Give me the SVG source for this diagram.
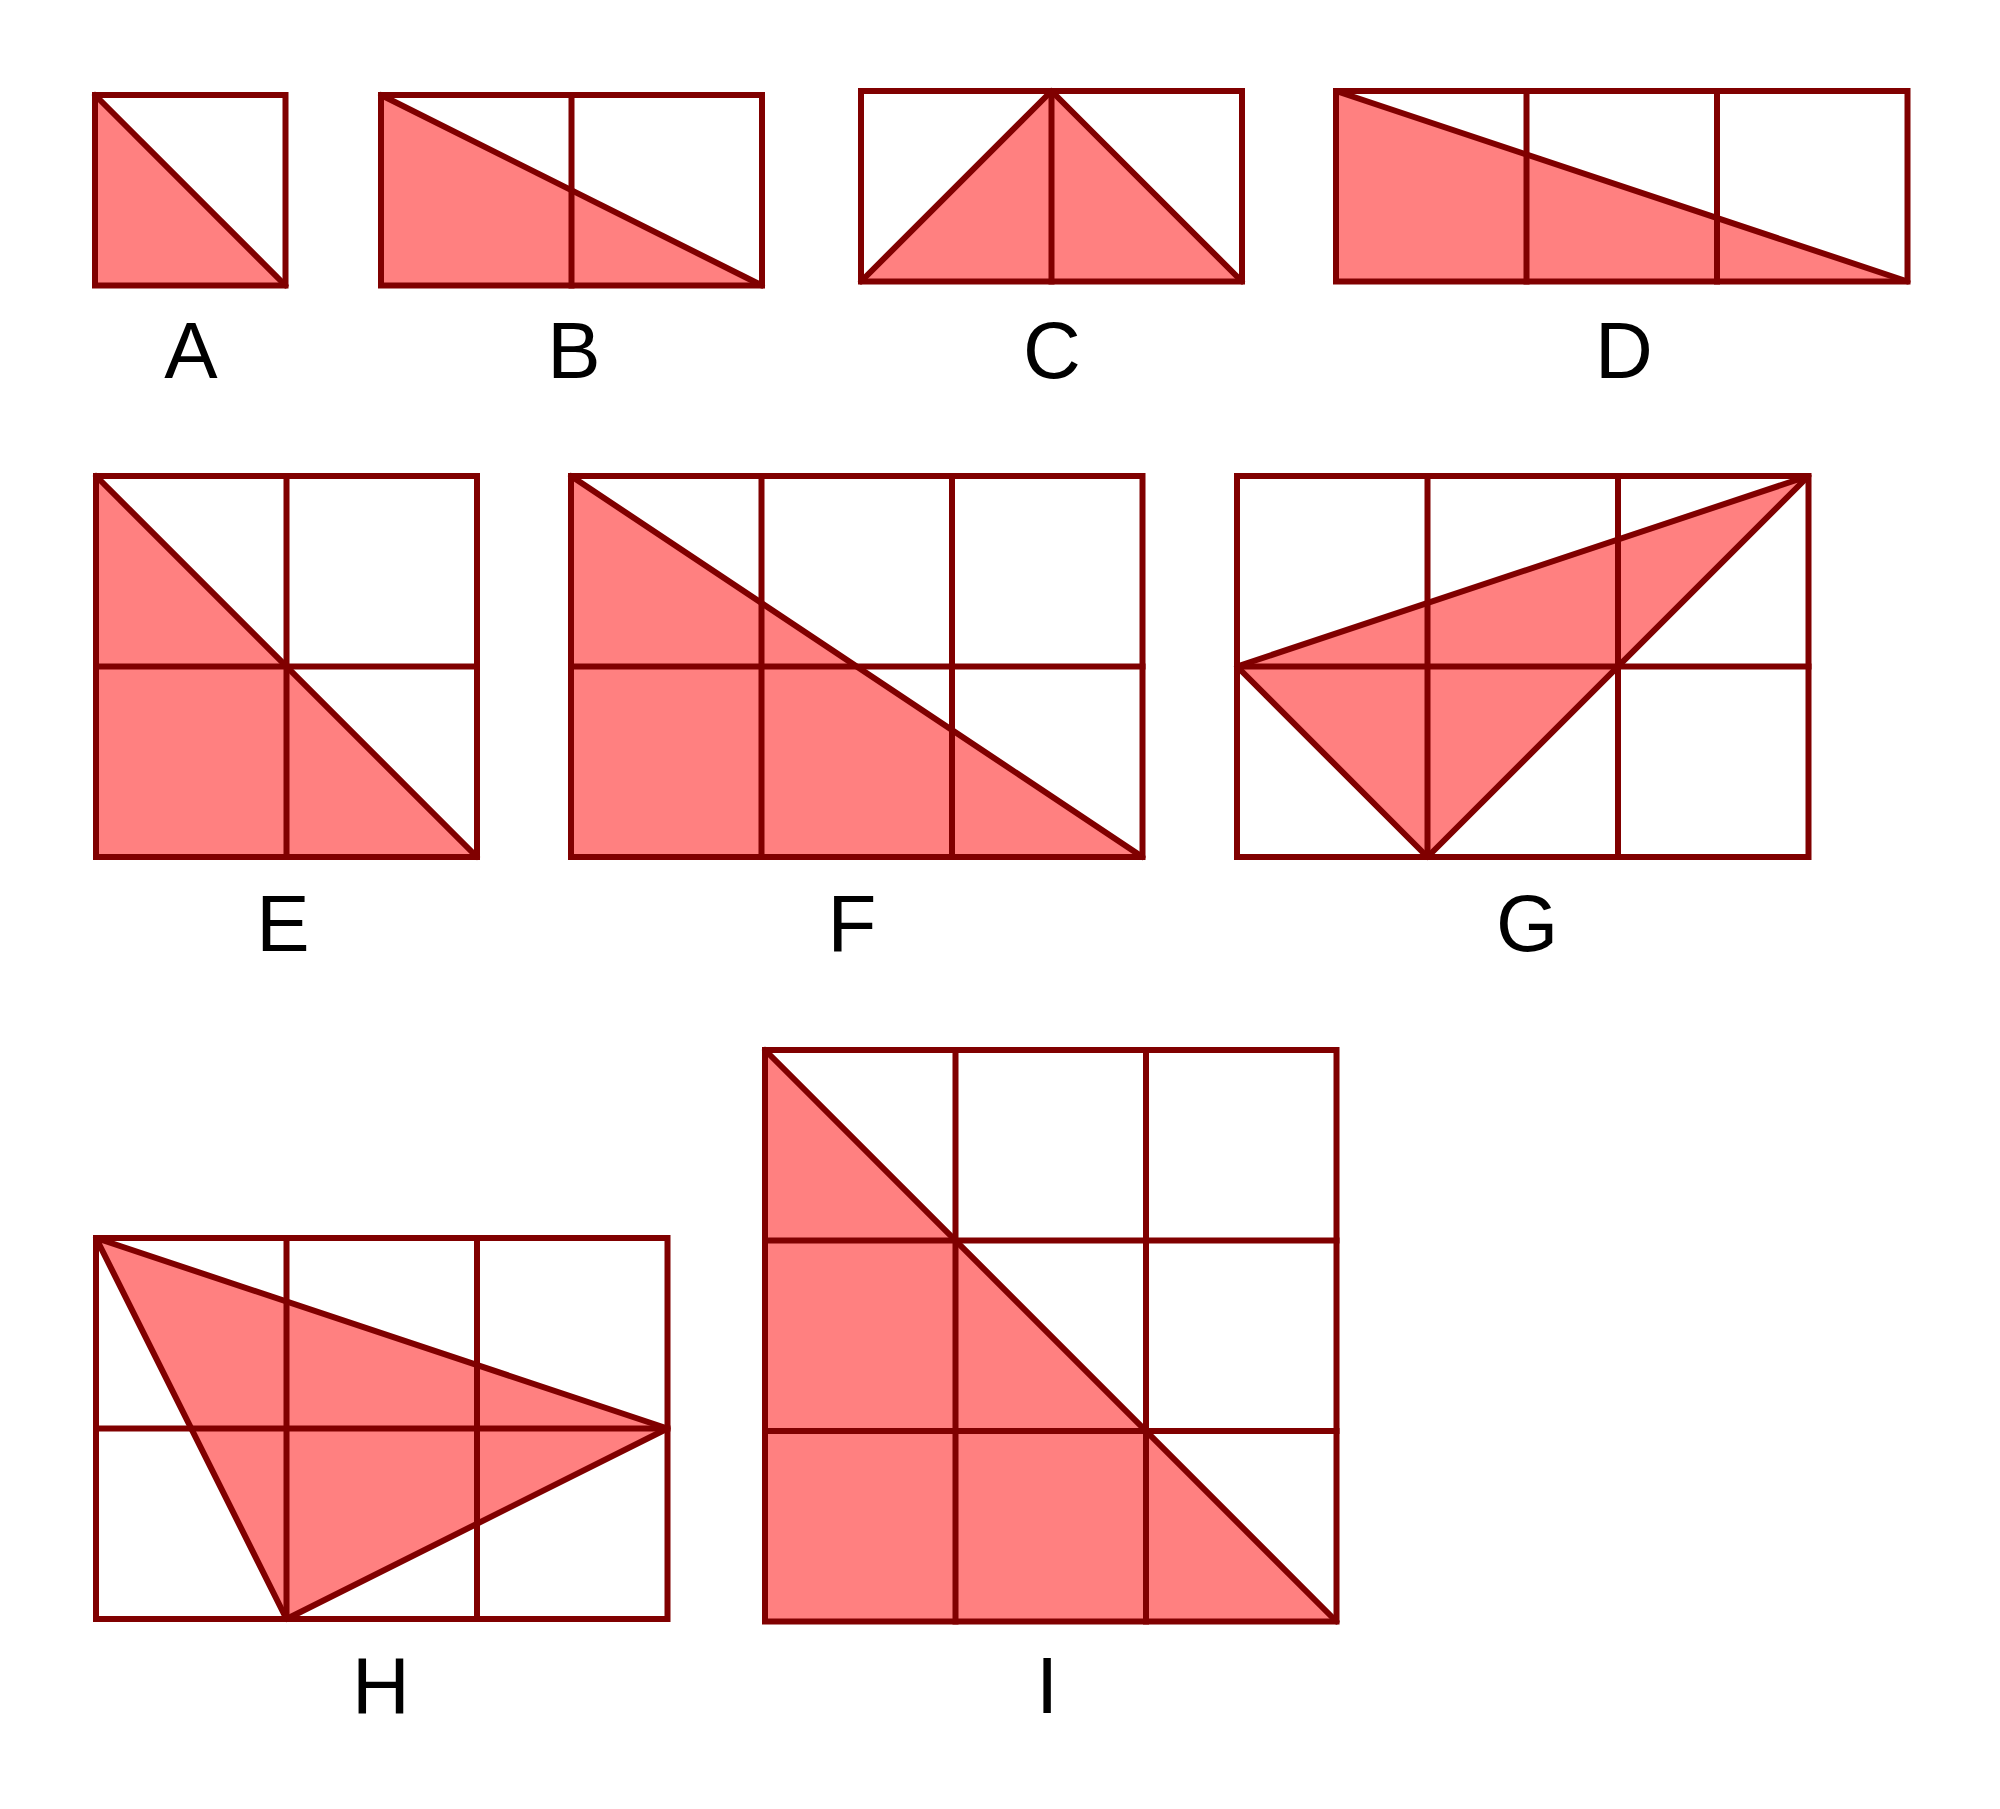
<svg xmlns="http://www.w3.org/2000/svg" width="2000" height="1809" viewBox="0 0 2000 1809">
<style>
.fill{fill:#FF8080;stroke:none}
.g{fill:none;stroke:#800000;stroke-width:6;stroke-linecap:square}
.t{fill:none;stroke:#800000;stroke-width:6;stroke-linejoin:round;stroke-linecap:round}
.lbl{font-family:"Liberation Sans",Arial,sans-serif;font-size:80px;fill:#000;text-anchor:middle}
</style>
<rect width="2000" height="1809" fill="#fff"/>
<g id="A" transform="translate(95,95)">
<polygon class="fill" points="0,0 0,190.5 190.5,190.5"/>
<rect class="g" x="0" y="0" width="190.5" height="190.5"/>
<polyline class="t" points="0,0 190.5,190.5"/>
</g>
<g id="B" transform="translate(381,95)">
<polygon class="fill" points="0,0 0,190.5 381,190.5"/>
<rect class="g" x="0" y="0" width="381" height="190.5"/>
<path class="g" d="M190.5,0V190.5"/>
<polyline class="t" points="0,0 381,190.5"/>
</g>
<g id="C" transform="translate(861,91)">
<polygon class="fill" points="0,190.5 190.5,0 381,190.5"/>
<rect class="g" x="0" y="0" width="381" height="190.5"/>
<path class="g" d="M190.5,0V190.5"/>
<polyline class="t" points="0,190.5 190.5,0 381,190.5"/>
</g>
<g id="D" transform="translate(1336,91)">
<polygon class="fill" points="0,0 0,190.5 571.5,190.5"/>
<rect class="g" x="0" y="0" width="571.5" height="190.5"/>
<path class="g" d="M190.5,0V190.5M381,0V190.5"/>
<polyline class="t" points="0,0 571.5,190.5"/>
</g>
<g id="E" transform="translate(96,476)">
<polygon class="fill" points="0,0 0,381 381,381"/>
<rect class="g" x="0" y="0" width="381" height="381"/>
<path class="g" d="M190.5,0V381M0,190.5H381"/>
<polyline class="t" points="0,0 381,381"/>
</g>
<g id="F" transform="translate(571,476)">
<polygon class="fill" points="0,0 0,381 571.5,381"/>
<rect class="g" x="0" y="0" width="571.5" height="381"/>
<path class="g" d="M190.5,0V381M381,0V381M0,190.5H571.5"/>
<polyline class="t" points="0,0 571.5,381"/>
</g>
<g id="G" transform="translate(1237,476)">
<polygon class="fill" points="0,190.5 571.5,0 190.5,381"/>
<rect class="g" x="0" y="0" width="571.5" height="381"/>
<path class="g" d="M190.5,0V381M381,0V381M0,190.5H571.5"/>
<polygon class="t" points="0,190.5 571.5,0 190.5,381"/>
</g>
<g id="H" transform="translate(96,1238)">
<polygon class="fill" points="0,0 571.5,190.5 190.5,381"/>
<rect class="g" x="0" y="0" width="571.5" height="381"/>
<path class="g" d="M190.5,0V381M381,0V381M0,190.5H571.5"/>
<polygon class="t" points="0,0 571.5,190.5 190.5,381"/>
</g>
<g id="I" transform="translate(765,1050)">
<polygon class="fill" points="0,0 0,571.5 571.5,571.5"/>
<rect class="g" x="0" y="0" width="571.5" height="571.5"/>
<path class="g" d="M190.5,0V571.5M381,0V571.5M0,190.5H571.5M0,381H571.5"/>
<polyline class="t" points="0,0 571.5,571.5"/>
</g>
<g id="labels">
<text class="lbl" x="191" y="378">A</text>
<text class="lbl" x="574" y="378">B</text>
<text class="lbl" x="1052" y="378">C</text>
<text class="lbl" x="1624" y="378">D</text>
<text class="lbl" x="283" y="951">E</text>
<text class="lbl" x="852" y="951">F</text>
<text class="lbl" x="1527" y="951">G</text>
<text class="lbl" x="381" y="1713">H</text>
<text class="lbl" x="1047" y="1713">I</text>
</g>
</svg>
